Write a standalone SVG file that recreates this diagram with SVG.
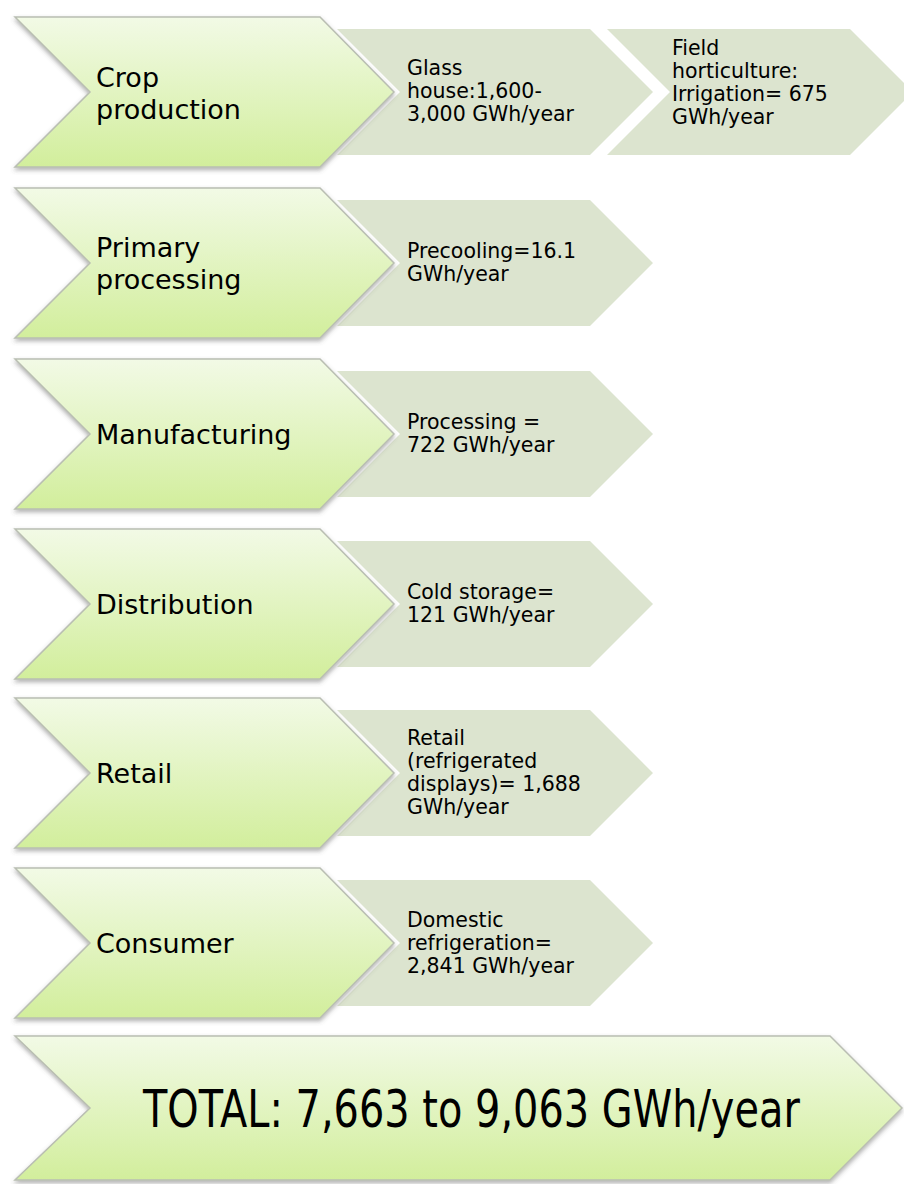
<svg xmlns="http://www.w3.org/2000/svg" width="904" height="1184" viewBox="0 0 904 1184">
<defs>
<linearGradient id="gGreen" x1="0" y1="0" x2="0" y2="1">
<stop offset="0" stop-color="#f2fae6"/>
<stop offset="1" stop-color="#d2ee9c"/>
</linearGradient>
<filter id="sh" x="-5%" y="-10%" width="110%" height="125%">
<feDropShadow dx="0" dy="2.5" stdDeviation="2" flood-color="#555" flood-opacity="0.45"/>
</filter>
</defs>
<style>
.green{fill:url(#gGreen);stroke:#b9beb2;stroke-width:1.5;filter:url(#sh)}
.gray{fill:#dce4cf}
.lbl{font-family:"DejaVu Sans",Verdana,sans-serif;font-size:27px;fill:#000}
.sub{font-family:"DejaVu Sans",Verdana,sans-serif;font-size:20.5px;fill:#000}
.tot{font-family:"DejaVu Sans",Verdana,sans-serif;font-size:52px;fill:#000}
</style>
<rect width="904" height="1184" fill="#fff"/>

<!-- Row 1 -->
<g id="glass-house">
<polygon class="gray" points="337,29 590,29 653,92 590,155 337,155 400,92"/>
<text class="sub"><tspan x="407" y="75">Glass</tspan><tspan x="407" y="98">house:1,600-</tspan><tspan x="407" y="121">3,000 GWh/year</tspan></text>
</g>
<g id="field-horticulture">
<polygon class="gray" points="607,29 850,29 904,83 904,101 850,155 607,155 670,92"/>
<text class="sub"><tspan x="672" y="55">Field</tspan><tspan x="672" y="78">horticulture:</tspan><tspan x="672" y="101">Irrigation= 675</tspan><tspan x="672" y="124">GWh/year</tspan></text>
</g>
<g id="crop-production">
<polygon class="green" points="15,17 320,17 394,92 320,167 15,167 90,92"/>
<text class="lbl"><tspan x="96" y="87">Crop</tspan><tspan x="96" y="119">production</tspan></text>
</g>

<!-- Row 2 -->
<g id="precooling">
<polygon class="gray" points="337,200 590,200 653,263 590,326 337,326 400,263"/>
<text class="sub"><tspan x="407" y="258">Precooling=16.1</tspan><tspan x="407" y="281">GWh/year</tspan></text>
</g>
<g id="primary-processing">
<polygon class="green" points="15,188 320,188 394,263 320,338 15,338 90,263"/>
<text class="lbl"><tspan x="96" y="257">Primary</tspan><tspan x="96" y="289">processing</tspan></text>
</g>

<!-- Row 3 -->
<g id="processing">
<polygon class="gray" points="337,371 590,371 653,434 590,497 337,497 400,434"/>
<text class="sub"><tspan x="407" y="429">Processing =</tspan><tspan x="407" y="452">722 GWh/year</tspan></text>
</g>
<g id="manufacturing">
<polygon class="green" points="15,359 320,359 394,434 320,509 15,509 90,434"/>
<text class="lbl" x="96" y="444">Manufacturing</text>
</g>

<!-- Row 4 -->
<g id="cold-storage">
<polygon class="gray" points="337,541 590,541 653,604 590,667 337,667 400,604"/>
<text class="sub"><tspan x="407" y="599">Cold storage=</tspan><tspan x="407" y="622">121 GWh/year</tspan></text>
</g>
<g id="distribution">
<polygon class="green" points="15,529 320,529 394,604 320,679 15,679 90,604"/>
<text class="lbl" x="96" y="614">Distribution</text>
</g>

<!-- Row 5 -->
<g id="retail-displays">
<polygon class="gray" points="337,710 590,710 653,773 590,836 337,836 400,773"/>
<text class="sub"><tspan x="407" y="745">Retail</tspan><tspan x="407" y="768">(refrigerated</tspan><tspan x="407" y="791">displays)= 1,688</tspan><tspan x="407" y="814">GWh/year</tspan></text>
</g>
<g id="retail">
<polygon class="green" points="15,698 320,698 394,773 320,848 15,848 90,773"/>
<text class="lbl" x="96" y="783">Retail</text>
</g>

<!-- Row 6 -->
<g id="domestic-refrigeration">
<polygon class="gray" points="337,880 590,880 653,943 590,1006 337,1006 400,943"/>
<text class="sub"><tspan x="407" y="927">Domestic</tspan><tspan x="407" y="950">refrigeration=</tspan><tspan x="407" y="973">2,841 GWh/year</tspan></text>
</g>
<g id="consumer">
<polygon class="green" points="15,868 320,868 394,943 320,1018 15,1018 90,943"/>
<text class="lbl" x="96" y="953">Consumer</text>
</g>

<!-- Total -->
<g id="total">
<polygon class="green" points="15,1036 830,1036 902,1108 830,1180 15,1180 90,1108"/>
<text class="tot" transform="translate(143,1127) scale(0.7667,1)" x="0" y="0">TOTAL: 7,663 to 9,063 GWh/year</text>
</g>
</svg>
